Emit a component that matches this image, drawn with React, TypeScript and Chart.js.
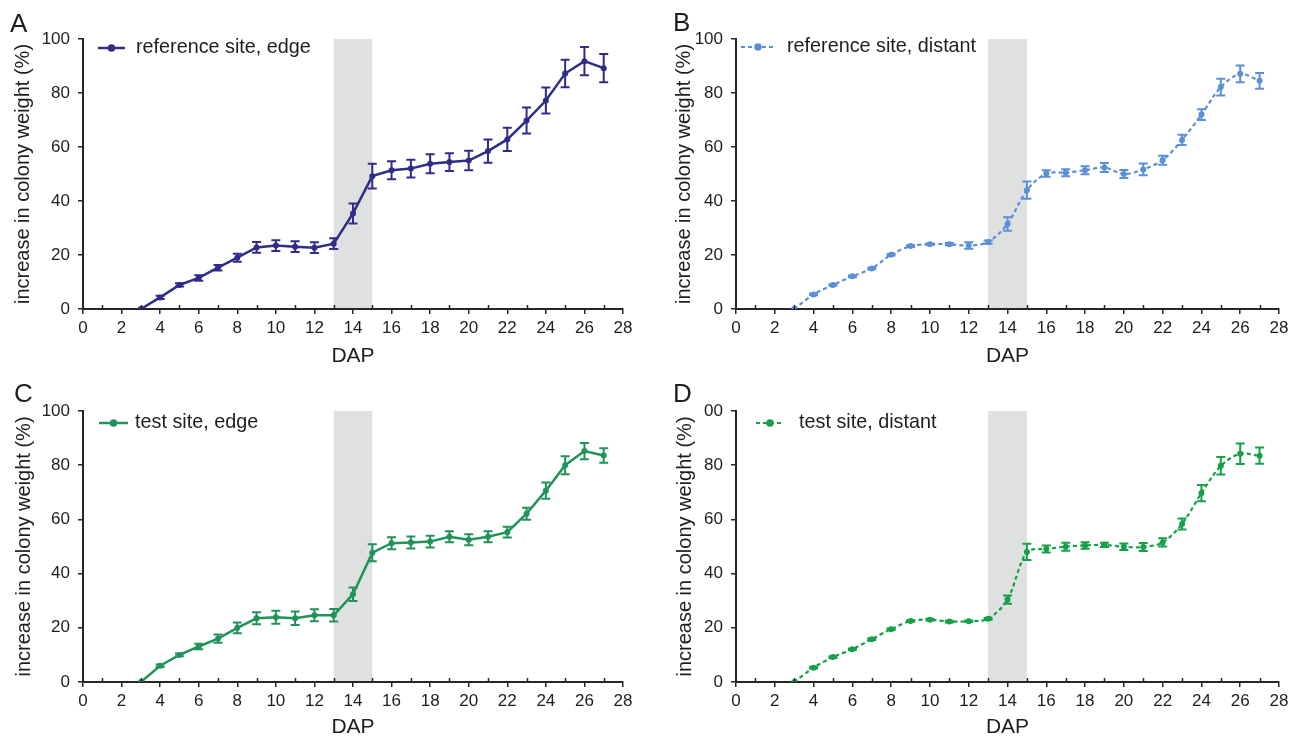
import React, { useEffect, useRef } from "react";
import { Chart, registerables } from "chart.js";

Chart.register(...registerables);

// ---------- data ----------
const days = [3, 4, 5, 6, 7, 8, 9, 10, 11, 12, 13, 14, 15, 16, 17, 18, 19, 20, 21, 22, 23, 24, 25, 26, 27];

const refEdge = [0, 4.3, 8.9, 11.5, 15.3, 19.0, 22.8, 23.5, 23.1, 22.7, 24.2, 35.4, 49.2, 51.4, 52.0, 53.8, 54.4, 55.0, 58.5, 62.8, 69.8, 77.2, 87.2, 91.8, 89.2];
const refEdgeErr = [0, 0.6, 0.6, 1.0, 1.0, 1.5, 2.0, 2.0, 2.0, 2.0, 2.0, 3.7, 4.6, 3.3, 3.3, 3.5, 3.3, 3.6, 4.3, 4.3, 4.8, 4.8, 5.1, 5.2, 5.2];

const refDistant = [0, 5.4, 8.9, 12.1, 15.0, 20.1, 23.3, 24.0, 24.0, 23.5, 24.8, 31.5, 44.0, 50.2, 50.5, 51.4, 52.4, 50.0, 51.7, 55.1, 62.6, 72.0, 82.2, 87.1, 84.5];
const refDistantErr = [0, 0.3, 0.3, 0.3, 0.3, 0.3, 0.3, 0.3, 0.4, 1.2, 0.6, 2.5, 3.2, 1.2, 1.3, 1.5, 1.7, 1.5, 2.2, 1.7, 1.9, 2.0, 3.1, 3.1, 2.9];

const testEdge = [0, 6.0, 10.0, 13.1, 16.0, 20.0, 23.5, 23.9, 23.5, 24.6, 24.6, 32.4, 47.7, 51.2, 51.5, 51.8, 53.6, 52.5, 53.6, 55.3, 62.1, 70.6, 80.0, 85.2, 83.6];
const testEdgeErr = [0, 0.5, 0.5, 1.0, 1.5, 2.0, 2.2, 2.4, 2.5, 2.2, 2.3, 2.5, 3.1, 2.2, 2.2, 2.2, 2.0, 2.0, 2.0, 2.0, 2.2, 3.0, 3.3, 3.0, 2.7];

const testDistant = [0, 5.3, 9.2, 12.1, 15.8, 19.5, 22.5, 23.0, 22.3, 22.4, 23.3, 30.4, 48.0, 49.1, 49.9, 50.4, 50.6, 49.9, 49.8, 51.5, 58.3, 69.7, 79.8, 84.2, 83.5];
const testDistantErr = [0, 0.3, 0.3, 0.3, 0.3, 0.3, 0.3, 0.3, 0.3, 0.3, 0.3, 1.5, 3.0, 1.3, 1.5, 1.2, 0.8, 1.2, 1.5, 1.5, 2.0, 3.0, 3.2, 3.8, 3.0];

const xTicks = [0, 2, 4, 6, 8, 10, 12, 14, 16, 18, 20, 22, 24, 26, 28];
const xTickLabels = ["0", "2", "4", "6", "8", "10", "12", "14", "16", "18", "20", "22", "24", "26", "28"];
const xMinorTicks = [1, 3, 5, 7, 9, 11, 13, 15, 17, 19, 21, 23, 25, 27];
const yTicks = [0, 20, 40, 60, 80, 100];
const yTickLabels = ["0", "20", "40", "60", "80", "100"];
const yTickLabelsD = ["0", "20", "40", "60", "80", "00"];
const shadeRange = [13, 15];

const panelLetters = ["A", "B", "C", "D"];
const seriesNames = ["reference site, edge", "reference site, distant", "test site, edge", "test site, distant"];
const xTitle = "DAP";
const yTitle = "increase in colony weight (%)";

// ---------- layout / style ----------
const TEXT = "#1e1e1e";
const AXIS = "#262626";
Chart.defaults.font.family = "'Liberation Sans', Arial, Helvetica, sans-serif";
Chart.defaults.color = TEXT;

type PanelCfg = {
  letter: string;
  name: string;
  values: number[];
  errs: number[];
  yLabels: string[];
  color: string;
  dashed: boolean;
  x: number; y: number; w: number; h: number;
  chartLeft: number; chartRight: number; chartTop: number; chartBottom: number;
  yTitlePad: number; dapPad: number;
  legend: { x1: number; x2: number; y: number; tx: number };
  letterPos: { x: number; y: number };
};

const panels: PanelCfg[] = [
  {
    letter: panelLetters[0], name: seriesNames[0], values: refEdge, errs: refEdgeErr, yLabels: yTickLabels,
    color: "#302c88", dashed: false,
    x: 0, y: 0, w: 648, h: 370, chartLeft: 83, chartRight: 623, chartTop: 39, chartBottom: 309,
    yTitlePad: 11, dapPad: 1,
    legend: { x1: 98, x2: 125, y: 48, tx: 136 }, letterPos: { x: 10, y: 32 },
  },
  {
    letter: panelLetters[1], name: seriesNames[1], values: refDistant, errs: refDistantErr, yLabels: yTickLabels,
    color: "#5b8fd6", dashed: true,
    x: 648, y: 0, w: 649, h: 370, chartLeft: 88, chartRight: 631, chartTop: 39, chartBottom: 309,
    yTitlePad: 24, dapPad: 1,
    legend: { x1: 93, x2: 127, y: 47, tx: 139 }, letterPos: { x: 25, y: 31 },
  },
  {
    letter: panelLetters[2], name: seriesNames[2], values: testEdge, errs: testEdgeErr, yLabels: yTickLabels,
    color: "#21935a", dashed: false,
    x: 0, y: 370, w: 648, h: 370, chartLeft: 83, chartRight: 623, chartTop: 41, chartBottom: 312,
    yTitlePad: 12, dapPad: 0,
    legend: { x1: 99, x2: 128, y: 53, tx: 135 }, letterPos: { x: 14, y: 32 },
  },
  {
    letter: panelLetters[3], name: seriesNames[3], values: testDistant, errs: testDistantErr, yLabels: yTickLabelsD,
    color: "#17a04a", dashed: true,
    x: 648, y: 370, w: 649, h: 370, chartLeft: 88, chartRight: 631, chartTop: 41, chartBottom: 312,
    yTitlePad: 25, dapPad: 0,
    legend: { x1: 108, x2: 136, y: 53, tx: 151 }, letterPos: { x: 25, y: 32 },
  },
];

const DASH = [4, 3];

const decorPlugin = {
  id: "decor",
  beforeDraw(chart: any, _args: any, opts: any) {
    const { ctx, scales } = chart;
    const x = scales.x, y = scales.y;
    const x1 = x.getPixelForValue(shadeRange[0]);
    const x2 = x.getPixelForValue(shadeRange[1]);
    const yt = y.getPixelForValue(yTicks[yTicks.length - 1]);
    const yb = y.getPixelForValue(yTicks[0]);
    ctx.save();
    ctx.fillStyle = "#dfe0e0";
    ctx.fillRect(x1, yt, x2 - x1, yb - yt);
    ctx.restore();
  },
  afterDatasetsDraw(chart: any, _args: any, opts: any) {
    const cfg: PanelCfg = opts.cfg;
    const { ctx, scales } = chart;
    const x = scales.x, y = scales.y;
    ctx.save();
    ctx.strokeStyle = cfg.color;
    ctx.lineWidth = 2;
    ctx.setLineDash([]);
    days.forEach((d, i) => {
      const e = cfg.errs[i];
      if (!e) return;
      const px = x.getPixelForValue(d);
      const top = y.getPixelForValue(cfg.values[i] + e);
      const bot = y.getPixelForValue(cfg.values[i] - e);
      ctx.beginPath();
      ctx.moveTo(px, top);
      ctx.lineTo(px, bot);
      ctx.moveTo(px - 4.5, top);
      ctx.lineTo(px + 4.5, top);
      ctx.moveTo(px - 4.5, bot);
      ctx.lineTo(px + 4.5, bot);
      ctx.stroke();
    });
    ctx.restore();
  },
  afterDraw(chart: any, _args: any, opts: any) {
    const cfg: PanelCfg = opts.cfg;
    const { ctx, scales } = chart;
    const x = scales.x;
    const yb = chart.chartArea.bottom;
    ctx.save();
    // minor ticks on x axis (pointing up)
    ctx.strokeStyle = AXIS;
    ctx.lineWidth = 1.5;
    xMinorTicks.forEach((v) => {
      const px = Math.round(x.getPixelForValue(v)) + 0.5;
      ctx.beginPath();
      ctx.moveTo(px, yb);
      ctx.lineTo(px, yb - 4);
      ctx.stroke();
    });
    // legend
    const L = cfg.legend;
    ctx.strokeStyle = cfg.color;
    ctx.lineWidth = cfg.dashed ? 2.2 : 2.5;
    ctx.setLineDash(cfg.dashed ? DASH : []);
    ctx.beginPath();
    ctx.moveTo(L.x1, L.y);
    ctx.lineTo(L.x2, L.y);
    ctx.stroke();
    ctx.setLineDash([]);
    ctx.fillStyle = cfg.color;
    ctx.beginPath();
    ctx.arc((L.x1 + L.x2) / 2, L.y, 3.8, 0, Math.PI * 2);
    ctx.fill();
    ctx.fillStyle = TEXT;
    ctx.font = "19.8px 'Liberation Sans', Arial, sans-serif";
    ctx.textBaseline = "middle";
    ctx.textAlign = "left";
    ctx.fillText(cfg.name, L.tx, L.y);
    // panel letter
    ctx.font = "26px 'Liberation Sans', Arial, sans-serif";
    ctx.textBaseline = "alphabetic";
    ctx.fillText(cfg.letter, cfg.letterPos.x, cfg.letterPos.y);
    ctx.restore();
  },
};

function Panel({ cfg }: { cfg: PanelCfg }) {
  const ref = useRef<HTMLCanvasElement>(null);
  useEffect(() => {
    const canvas = ref.current!;
    const chart = new Chart(canvas, {
      type: "line",
      data: {
        datasets: [
          {
            label: cfg.name,
            data: days.map((d, i) => ({ x: d, y: cfg.values[i] })),
            borderColor: cfg.color,
            backgroundColor: cfg.color,
            borderWidth: cfg.dashed ? 2.2 : 2.5,
            borderDash: cfg.dashed ? DASH : [],
            pointRadius: 3,
            pointHoverRadius: 3,
            pointBorderWidth: 0,
            pointBackgroundColor: cfg.color,
            tension: cfg.dashed ? 0.3 : 0,
            fill: false,
          },
        ],
      },
      options: {
        responsive: false,
        animation: false,
        devicePixelRatio: 1,
        events: [],
        layout: {
          padding: { left: 0, top: cfg.chartTop, right: cfg.w - cfg.chartRight, bottom: 0 },
        },
        plugins: {
          legend: { display: false },
          tooltip: { enabled: false },
          title: { display: false },
          decor: { cfg },
        } as any,
        scales: {
          x: {
            type: "linear",
            min: 0,
            max: 28,
            afterBuildTicks: (s: any) => {
              s.ticks = xTicks.map((v) => ({ value: v }));
            },
            afterFit: (s: any) => {
              s.height = cfg.h - cfg.chartBottom;
            },
            grid: { drawOnChartArea: false, drawTicks: true, tickLength: 5, color: AXIS, lineWidth: 1.5 },
            border: { display: true, color: AXIS, width: 2 },
            ticks: {
              autoSkip: false,
              maxRotation: 0,
              padding: 4,
              color: TEXT,
              font: { size: 17 },
              callback: (_v: any, i: number) => xTickLabels[i],
            },
            title: {
              display: true,
              text: xTitle,
              color: TEXT,
              font: { size: 21 },
              padding: { top: 0, bottom: cfg.dapPad },
            },
          },
          y: {
            type: "linear",
            min: 0,
            max: 100,
            afterBuildTicks: (s: any) => {
              s.ticks = yTicks.map((v) => ({ value: v }));
            },
            afterFit: (s: any) => {
              s.width = cfg.chartLeft;
            },
            grid: { drawOnChartArea: false, drawTicks: true, tickLength: 5, color: AXIS, lineWidth: 1.5 },
            border: { display: true, color: AXIS, width: 2 },
            ticks: {
              padding: 8,
              color: TEXT,
              font: { size: 17 },
              callback: (_v: any, i: number) => cfg.yLabels[i],
            },
            title: {
              display: true,
              text: yTitle,
              color: TEXT,
              font: { size: 20 },
              padding: { top: cfg.yTitlePad, bottom: 0 },
            },
          },
        },
      } as any,
      plugins: [decorPlugin as any],
    });
    return () => chart.destroy();
  }, [cfg]);
  return (
    <canvas
      ref={ref}
      width={cfg.w}
      height={cfg.h}
      style={{ position: "absolute", left: cfg.x, top: cfg.y, width: cfg.w, height: cfg.h }}
    />
  );
}

export default function App() {
  return (
    <div
      style={{
        position: "fixed",
        left: 0,
        top: 0,
        width: 1297,
        height: 739,
        background: "#ffffff",
        overflow: "hidden",
      }}
    >
      {panels.map((p) => (
        <Panel key={p.letter} cfg={p} />
      ))}
    </div>
  );
}
